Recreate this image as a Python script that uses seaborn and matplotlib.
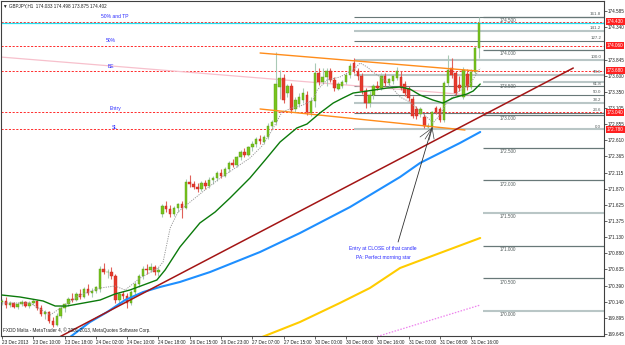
import numpy as np
import pandas as pd
import matplotlib
matplotlib.use("Agg")
import matplotlib.pyplot as plt
import matplotlib.transforms as mtransforms
import seaborn as sns

# ---------------- data (GBPJPY H1 candles) ----------------
bar_open = [
    170.13, 170.16, 170.09, 170.12, 170.06, 170.10, 170.13, 170.08, 170.12, 170.15,
    170.04, 169.95, 169.98, 169.85, 169.79, 169.93, 170.04, 170.10, 170.19, 170.17,
    170.26, 170.22, 170.34, 170.28, 170.31, 170.33, 170.65, 170.59, 170.60, 170.53,
    170.17, 170.26, 170.23, 170.12, 170.29, 170.42, 170.53, 170.65, 170.62, 170.67,
    170.59, 171.48, 171.61, 171.56, 171.48, 171.57, 171.63, 171.58, 171.98, 171.94,
    171.90, 171.86, 171.96, 171.92, 172.00, 172.03, 172.11, 172.07, 172.17, 172.27,
    172.23, 172.35, 172.43, 172.39, 172.51, 172.55, 172.63, 172.58, 172.66, 172.83,
    172.89, 173.43, 173.57, 173.33, 173.44, 173.09, 173.17, 173.23, 173.31, 173.03,
    173.21, 173.65, 173.50, 173.58, 173.67, 173.54, 173.40, 173.45, 173.51, 173.61,
    173.80, 173.68, 173.60, 173.37, 173.18, 173.30, 173.44, 173.42, 173.60, 173.49,
    173.52, 173.57, 173.58, 173.48, 173.40, 173.25, 173.09, 173.01, 172.97, 172.82,
    172.83, 173.10, 173.09, 172.93, 173.49, 173.72, 173.64, 173.46, 173.28, 173.63,
    173.43, 173.66, 174.033]
bar_high = [
    170.19, 170.22, 170.15, 170.14, 170.13, 170.17, 170.16, 170.15, 170.19, 170.17,
    170.09, 170.02, 170.00, 169.91, 169.97, 170.07, 170.12, 170.22, 170.27, 170.29,
    170.33, 170.37, 170.42, 170.35, 170.39, 170.69, 170.73, 170.64, 170.67, 170.57,
    170.29, 170.31, 170.27, 170.32, 170.45, 170.57, 170.69, 170.72, 170.73, 170.71,
    170.67, 171.64, 171.68, 171.62, 171.60, 171.66, 171.68, 172.02, 172.08, 171.99,
    171.96, 171.99, 172.00, 172.05, 172.07, 172.15, 172.17, 172.20, 172.30, 172.33,
    172.37, 172.47, 172.49, 172.53, 172.60, 172.67, 172.69, 172.69, 172.87, 172.93,
    173.96, 173.69, 173.63, 173.48, 173.49, 173.28, 173.33, 173.41, 173.36, 173.27,
    173.80, 173.72, 173.72, 173.72, 173.72, 173.58, 173.50, 173.54, 173.64, 173.80,
    173.88, 173.72, 173.64, 173.42, 173.36, 173.47, 173.52, 173.64, 173.64, 173.57,
    173.62, 173.74, 173.68, 173.52, 173.44, 173.29, 173.14, 173.13, 173.02, 172.87,
    173.06, 173.14, 173.12, 173.52, 173.92, 173.87, 173.68, 173.60, 173.73, 173.70,
    173.70, 174.05, 174.498]
bar_low = [
    170.09, 170.05, 170.06, 170.04, 170.03, 170.07, 170.06, 170.05, 170.09, 170.02,
    169.92, 169.87, 169.82, 169.75, 169.77, 169.90, 169.99, 170.07, 170.13, 170.15,
    170.19, 170.20, 170.25, 170.22, 170.27, 170.29, 170.57, 170.51, 170.49, 170.12,
    170.11, 170.19, 170.05, 170.09, 170.25, 170.37, 170.49, 170.57, 170.59, 170.55,
    170.53, 171.44, 171.51, 171.44, 171.46, 171.52, 171.42, 171.56, 171.90, 171.86,
    171.82, 171.83, 171.87, 171.89, 171.95, 171.99, 172.03, 172.05, 172.13, 172.20,
    172.21, 172.31, 172.35, 172.37, 172.45, 172.51, 172.55, 172.55, 172.63, 172.79,
    172.85, 173.25, 173.18, 173.28, 173.03, 173.05, 173.13, 173.19, 173.00, 172.99,
    173.12, 173.46, 173.47, 173.45, 173.50, 173.36, 173.38, 173.42, 173.48, 173.57,
    173.64, 173.54, 173.32, 173.10, 173.12, 173.24, 173.38, 173.39, 173.45, 173.44,
    173.48, 173.54, 173.38, 173.29, 173.22, 172.95, 172.94, 172.97, 172.80, 172.785,
    172.80, 173.01, 172.89, 172.90, 173.45, 173.57, 173.30, 173.36, 173.24, 173.38,
    173.40, 173.62, 173.875]
bar_close = [
    170.16, 170.09, 170.12, 170.06, 170.10, 170.13, 170.08, 170.12, 170.15, 170.04,
    169.95, 169.98, 169.85, 169.79, 169.93, 170.04, 170.10, 170.19, 170.17, 170.26,
    170.22, 170.34, 170.28, 170.31, 170.37, 170.65, 170.59, 170.60, 170.53, 170.17,
    170.26, 170.23, 170.12, 170.29, 170.42, 170.53, 170.65, 170.62, 170.67, 170.59,
    170.63, 171.61, 171.56, 171.48, 171.57, 171.63, 171.58, 171.98, 171.94, 171.90,
    171.86, 171.96, 171.92, 172.01, 172.03, 172.11, 172.07, 172.17, 172.27, 172.23,
    172.35, 172.43, 172.39, 172.51, 172.55, 172.63, 172.60, 172.66, 172.83, 172.89,
    173.47, 173.57, 173.23, 173.44, 173.08, 173.23, 173.27, 173.33, 173.04, 173.22,
    173.65, 173.50, 173.58, 173.67, 173.54, 173.41, 173.47, 173.51, 173.61, 173.75,
    173.68, 173.60, 173.37, 173.18, 173.30, 173.44, 173.42, 173.60, 173.49, 173.55,
    173.59, 173.68, 173.41, 173.33, 173.26, 172.99, 172.99, 173.09, 172.83, 172.83,
    173.04, 173.05, 172.92, 173.49, 173.69, 173.61, 173.34, 173.41, 173.69, 173.43,
    173.66, 174.03, 174.402]

# x-axis time labels (every 8 bars)
time_labels = ["23 Dec 2013", "23 Dec 10:00", "23 Dec 18:00", "24 Dec 02:00",
               "24 Dec 10:00", "24 Dec 18:00", "26 Dec 15:00", "26 Dec 23:00",
               "27 Dec 07:00", "27 Dec 15:00", "30 Dec 00:00", "30 Dec 08:00",
               "30 Dec 16:00", "31 Dec 00:00", "31 Dec 08:00", "31 Dec 16:00"]
# right price scale
price_ticks = [174.585, 174.340, 173.845, 173.600, 173.350, 173.105, 172.855,
               172.610, 172.365, 172.115, 171.870, 171.625, 171.375, 171.130,
               170.880, 170.635, 170.390, 170.140, 169.895, 169.645]

# moving averages / indicator lines: (bar index, price)
green_ma_bar = [0, 4.6, 10.5, 13.6, 16.6, 25.1, 28.9, 32.7, 39.6, 41.7, 45.5, 50.6,
                54.5, 58.3, 63.4, 67.3, 71.1, 75.4, 78.0, 81.3, 84.7, 87.2, 89.8,
                93.4, 98.5, 101.8, 104.3, 106.9, 110.2, 112.8, 115.3, 118.9, 120.5, 122.3]
green_ma_price = [170.244, 170.214, 170.153, 170.076, 170.076, 170.168, 170.260,
                  170.321, 170.474, 170.627, 170.979, 171.347, 171.515, 171.729,
                  172.035, 172.311, 172.586, 172.801, 172.862, 173.030, 173.183,
                  173.260, 173.336, 173.367, 173.413, 173.428, 173.398, 173.306,
                  173.229, 173.183, 173.260, 173.321, 173.367, 173.474]
fast_ma_bar = [0, 7.2, 12.3, 16.1, 19.9, 25.1, 28.9, 31.5, 35.3, 39.9, 41.2, 43.0,
               45.0, 48.1, 51.9, 55.8, 59.6, 63.4, 66.5, 69.1, 71.6, 74.2, 77.0,
               79.5, 80.6, 83.1, 86.4, 89.8, 91.6, 93.4, 94.9, 98.5, 101.8, 104.3,
               106.9, 109.5, 110.2, 112.0, 113.8, 116.6, 119.7, 122.3]
fast_ma_price = [170.122, 170.122, 169.938, 170.091, 170.244, 170.352, 170.382,
                 170.321, 170.505, 170.657, 170.750, 171.270, 171.515, 171.668,
                 171.852, 172.035, 172.188, 172.341, 172.525, 172.770, 173.046,
                 173.107, 173.153, 173.229, 173.382, 173.536, 173.581, 173.689,
                 173.796, 173.734, 173.658, 173.505, 173.275, 173.199, 173.061,
                 172.923, 172.877, 172.999, 173.199, 173.352, 173.474, 173.719]
blue_ma_bar = [16.5, 22.5, 26.9, 31.5, 36.1, 40.4, 45.5, 53.2, 66.0, 76.2, 89.0,
               101.8, 106.9, 112.0, 117.1, 122.3]
blue_ma_price = [169.56, 169.831, 169.984, 170.168, 170.290, 170.367, 170.444,
                 170.596, 170.903, 171.193, 171.591, 172.051, 172.265, 172.418,
                 172.571, 172.740]
gold_ma_bar = [64.7, 66.5, 76.2, 86.4, 94.1, 101.8, 112.0, 122.3]
gold_ma_price = [169.556, 169.601, 169.831, 170.122, 170.352, 170.658, 170.887, 171.117]
violet_ma_bar = [96.0, 122.3]
violet_ma_price = [169.61, 170.091]

# drawn objects
trend_bar = [13.0, 146.1]
trend_price = [169.549, 173.719]
pink_line_bar = [-0.5, 119.7]
pink_line_price = [173.888, 173.306]
chan_up_bar = [66.0, 121.7]
chan_up_price = [173.949, 173.673]
chan_lo_bar = [66.0, 118.4]
chan_lo_price = [173.092, 172.770]
pointer_bar = [101.3, 110.0]
pointer_price = [171.056, 172.816]
fan_end_bar = [106.9, 108.2, 109.2, 110.5]
fan_end_price = [172.663, 172.632, 172.617, 172.632]

# horizontal levels
level_names = ["50% and TP", "50%", "BE", "Entry", "SL"]
level_prices = [174.430, 174.060, 173.680, 173.040, 172.780]
level_tags = ["174.430", "174.060", "173.680", "173.040", "172.780"]
bid_price = 174.402
fib_ratios = [0.0, 23.6, 38.2, 50.0, 61.8, 78.6, 100.0, 127.2, 141.2, 161.8]
fib_low, fib_high = 172.780, 173.845
round_levels = [174.5, 174.0, 173.5, 173.0, 172.5, 172.0, 171.5, 171.0, 170.5, 170.0]

# ---------------- styling ----------------
sns.set_theme(style="white")
plt.rcParams["font.family"] = ["Liberation Sans", "DejaVu Sans"]

W, H = 625, 345
fig = plt.figure(figsize=(W / 100, H / 100), dpi=100)
fig.patch.set_facecolor("white")
ax = fig.add_axes([1 / W, 9 / H, 603 / W, 335 / H])
ax.set_facecolor("white")
XMIN, XMAX = -0.26, 153.96
ax.set_xlim(XMIN, XMAX)
ax.set_ylim(169.617, 174.745)

df = pd.DataFrame({"o": bar_open, "h": bar_high, "l": bar_low, "c": bar_close})
df["i"] = np.arange(len(df))
up = df["c"] >= df["o"]

# horizontal red dashed levels and bid line
for p in level_prices:
    ax.axhline(p, color="#ff2b2b", lw=0.7, dashes=(2.2, 1.6), zorder=1)
ax.axhline(bid_price, color="#22e0f0", lw=0.9, zorder=1)

# fibonacci retracement
fib_x0 = 90.0
for k, r in enumerate(fib_ratios):
    p = fib_low + (fib_high - fib_low) * r / 100.0
    light = r in (0.0, 38.2, 78.6, 100.0, 141.2)
    ax.hlines(p, fib_x0, XMAX, color="#b9c6c6" if light else "#687878",
              lw=1.5 if light else 0.8, zorder=1)
    ax.text(153.2, p + 0.012, f"{r:.1f}", ha="right", va="bottom",
            fontsize=3.2, color="#505a5a", zorder=2)

# round-number levels
rn_x0 = 123.0
for p in round_levels:
    light = p in (173.5, 171.5, 170.0)
    ax.hlines(p, rn_x0, XMAX, color="#b9c6c6" if light else "#687878",
              lw=1.5 if light else 0.9, zorder=1)
    ax.text(127.4, p - 0.057, f"{p:.3f}", ha="left", va="center",
            fontsize=3.3, color="#505a5a", zorder=2)

# trend lines and channel (drawn objects)
sns.lineplot(x=pink_line_bar, y=pink_line_price, ax=ax, color="#f7c0cc", lw=0.9,
             sort=False, zorder=2)
sns.lineplot(x=chan_up_bar, y=chan_up_price, ax=ax, color="#ff8c1a", lw=1.0,
             sort=False, zorder=5)
sns.lineplot(x=chan_lo_bar, y=chan_lo_price, ax=ax, color="#ff8c1a", lw=1.0,
             sort=False, zorder=5)

# candles
wick_col = np.where(up, "#a9c9b6", "#e0605a")
ax.vlines(df["i"], df["l"], df["h"], colors=wick_col, lw=0.8, zorder=3)
body_bot = np.minimum(df["o"], df["c"])
body_h = np.maximum(np.abs(df["c"] - df["o"]), 0.01)
ax.bar(df["i"], body_h, bottom=body_bot, width=0.64,
       color=np.where(up, "#78c41e", "#e63a2e"),
       edgecolor=np.where(up, "#5a9c14", "#c8281e"), lw=0.3, zorder=4)

# indicator lines
sns.lineplot(x=fast_ma_bar, y=fast_ma_price, ax=ax, color="#9a9a9a", lw=0.7,
             linestyle=(0, (1.2, 1.2)), sort=False, zorder=5)
sns.lineplot(x=green_ma_bar, y=green_ma_price, ax=ax, color="#0b7a0b", lw=1.0,
             sort=False, zorder=6)
sns.lineplot(x=blue_ma_bar, y=blue_ma_price, ax=ax, color="#1e8fff", lw=1.5,
             sort=False, zorder=6)
sns.lineplot(x=gold_ma_bar, y=gold_ma_price, ax=ax, color="#ffcc00", lw=1.5,
             sort=False, zorder=6)
sns.lineplot(x=violet_ma_bar, y=violet_ma_price, ax=ax, color="#ee82ee", lw=0.9,
             linestyle=(0, (1.2, 1.2)), sort=False, zorder=6)
sns.lineplot(x=trend_bar, y=trend_price, ax=ax, color="#a31515", lw=1.1,
             sort=False, zorder=6)

# pointer to the morning star candle
sns.lineplot(x=pointer_bar, y=pointer_price, ax=ax, color="#303030", lw=0.6,
             sort=False, zorder=7)
for bx, py in zip(fan_end_bar, fan_end_price):
    ax.plot([110.0, bx], [172.80, py], color="#404040", lw=0.5, zorder=7)

# level name labels
name_pos_bar = [28.8, 27.9, 27.9, 28.9, 28.9]
name_pos_price = [174.515, 174.148, 173.750, 173.107, 172.816]
for nm, bx, py in zip(level_names, name_pos_bar, name_pos_price):
    ax.text(bx, py, nm, ha="center", va="center", fontsize=3.6, color="#2b2bff", zorder=8)

ax.text(97.5, 170.949, "Entry at CLOSE of that candle", ha="center", va="center",
        fontsize=3.6, color="#2b2bff", zorder=8)
ax.text(97.5, 170.826, "PA: Perfect morning star", ha="center", va="center",
        fontsize=3.6, color="#2b2bff", zorder=8)

# header and footer
ax.text(0.004, 0.993, "\u25BC GBPJPY,H1  174.033 174.498 173.875 174.402",
        transform=ax.transAxes, ha="left", va="top", fontsize=3.3, color="#202020", zorder=9)
ax.text(0.004, 0.008, "FXDD Malta - MetaTrader 4, \u00A9 2001-2013, MetaQuotes Software Corp.",
        transform=ax.transAxes, ha="left", va="bottom", fontsize=3.3, color="#202020", zorder=9)

# red price tags on the right scale
trans = mtransforms.blended_transform_factory(ax.transAxes, ax.transData)
for p, t in zip(level_prices, level_tags):
    ax.text(1.005, p, t, transform=trans, ha="left", va="center", fontsize=3.3,
            color="white", clip_on=False, zorder=10,
            bbox=dict(boxstyle="square,pad=0.18", fc="#ff2020", ec="none"))

# axes / ticks
ax.set_xticks(np.arange(0, 8 * len(time_labels), 8))
ax.set_xticklabels(time_labels, fontsize=3.3, ha="left", color="#202020")
ax.tick_params(axis="x", length=2, width=0.5, pad=0.6, direction="out", bottom=True)
ax.yaxis.tick_right()
ax.set_yticks(price_ticks)
ax.set_yticklabels([f"{v:.3f}" for v in price_ticks], fontsize=3.3, color="#202020")
ax.tick_params(axis="y", length=2, width=0.5, pad=0.8, direction="out", right=True)
ax.set_xlabel("")
ax.set_ylabel("")
ax.grid(False)
for s in ax.spines.values():
    s.set_color("#404040")
    s.set_linewidth(0.8)
    s.set_visible(True)
if ax.get_legend() is not None:
    ax.get_legend().remove()

fig.savefig("out.png", dpi=100, facecolor="white")
